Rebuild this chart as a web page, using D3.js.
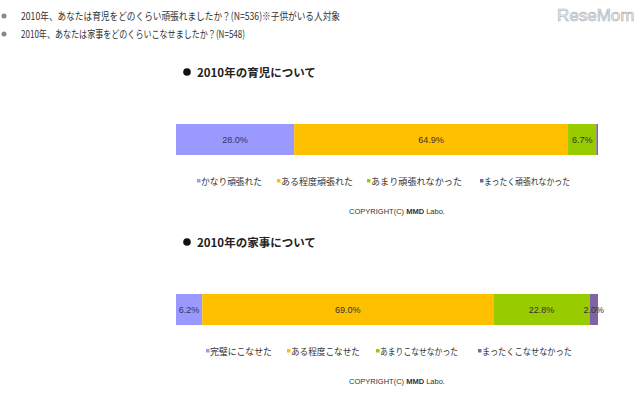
<!DOCTYPE html>
<html><head><meta charset="utf-8">
<script src="https://cdn.jsdelivr.net/npm/d3@7/dist/d3.min.js"></script>
<style>body{margin:0;background:#fff}svg{display:block;font-family:"Noto Sans CJK JP",sans-serif}</style>
</head><body><svg id="c" width="640" height="400"></svg>
<script>
const headerLines = ["2010年、あなたは育児をどのくらい頑張れましたか？(N=536)※子供がいる人対象", "2010年、あなたは家事をどのくらいこなせましたか？(N=548)"];
const titles = ["2010年の育児について", "2010年の家事について"];
const cats1 = ["かなり頑張れた", "ある程度頑張れた", "あまり頑張れなかった", "まったく頑張れなかった"];
const vals1 = [28.0, 64.9, 6.7, 0.4];
const cats2 = ["完璧にこなせた", "ある程度こなせた", "あまりこなせなかった", "まったくこなせなかった"];
const vals2 = [6.2, 69.0, 22.8, 2.0];
const colors = ["#9999ff", "#ffc000", "#99cc00", "#8064a2"];
const copyright = ["COPYRIGHT(C) ", "MMD", " Labo."];

const svg = d3.select("#c");
// header
headerLines.forEach((t, i) => {
  const y = 16 + i * 18;
  svg.append("circle").attr("cx", 4).attr("cy", y).attr("r", 2.5).attr("fill", "#888");
  svg.append("text").attr("x", 21).attr("y", y + 4).attr("font-size", 10.5).attr("fill", "#333")
    .attr("textLength", i === 0 ? 319 : 224).attr("lengthAdjust", "spacingAndGlyphs").text(t);
});
// logo
svg.append("text").attr("x", 557).attr("y", 21).attr("font-size", 17).attr("font-family", "Liberation Sans, sans-serif")
  .attr("fill", "#f4f4f4").attr("stroke", "#aaa").attr("stroke-width", 0.6).text("ReseMom");

const x = d3.scaleLinear().domain([0, 100]).range([176, 598]);

function panel(top, title, cats, vals, legendXs, legendEnds) {
  svg.append("circle").attr("cx", 187).attr("cy", top).attr("r", 3.8).attr("fill", "#111");
  svg.append("text").attr("x", 197).attr("y", top + 4.5).attr("font-size", 11.5).attr("font-weight", "bold").attr("fill", "#222").text(title);
  const stack = [];
  let acc = 0;
  vals.forEach((v, i) => { stack.push({ x0: acc, x1: acc + v, v, i }); acc += v; });
  const by = top + 52, bh = 31;
  const g = svg.append("g");
  g.selectAll("rect").data(stack).join("rect")
    .attr("x", d => x(d.x0)).attr("y", by).attr("width", d => x(d.x1) - x(d.x0)).attr("height", bh)
    .attr("fill", d => colors[d.i]);
  g.selectAll("text").data(stack.filter(d => d.v >= 1)).join("text")
    .attr("x", d => (x(d.x0) + x(d.x1)) / 2).attr("y", by + bh / 2 + 3.5)
    .attr("text-anchor", "middle").attr("font-size", 9).attr("font-family", "Liberation Sans, sans-serif")
    .attr("fill", d => d.i === 0 ? "#333366" : "#333").text(d => d.v.toFixed(1) + "%");
  // legend
  const ly = by + bh + 26;
  cats.forEach((c, i) => {
    svg.append("rect").attr("x", legendXs[i]).attr("y", ly - 2).attr("width", 3.5).attr("height", 3.5).attr("fill", colors[i]);
    svg.append("text").attr("x", legendXs[i] + 4).attr("y", ly + 3.5).attr("font-size", 9).attr("fill", "#333")
      .attr("textLength", legendEnds[i] - legendXs[i] - 4).attr("lengthAdjust", "spacingAndGlyphs").text(c);
  });
  const ct = svg.append("text").attr("x", 397).attr("y", ly + 33).attr("text-anchor", "middle")
    .attr("font-size", 7.5).attr("font-family", "Liberation Sans, sans-serif").attr("fill", "#333");
  copyright.forEach((s, i) => ct.append("tspan").attr("font-weight", i === 1 ? "bold" : "normal").text(s));
}
panel(72, titles[0], cats1, vals1, [197, 277, 367, 480], [262, 353, 462, 570]);
panel(242, titles[1], cats2, vals2, [206, 287, 376, 478], [272, 360, 458, 572]);
</script></body></html>
